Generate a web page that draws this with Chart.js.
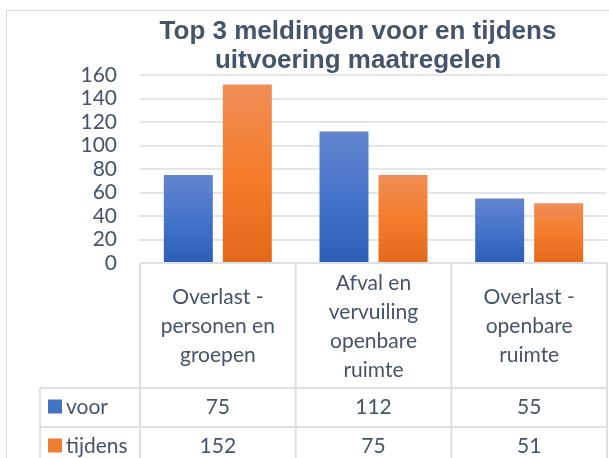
<!DOCTYPE html>
<html>
<head>
<meta charset="utf-8">
<title>Top 3 meldingen</title>
<script src="https://cdn.jsdelivr.net/npm/chart.js@4.4.1/dist/chart.umd.min.js"></script>
<style>
  html, body { margin: 0; padding: 0; background: #fff; overflow: hidden; }
  #wrap { position: absolute; left: 0; top: 0; width: 716px; height: 470px; }
</style>
</head>
<body>
<div id="wrap"><canvas id="meldingenChart"></canvas></div>
<script>
// chart data
const categories = [
  ['Overlast -', 'personen en', 'groepen'],
  ['Afval en', 'vervuiling', 'openbare', 'ruimte'],
  ['Overlast -', 'openbare', 'ruimte']
];
const seriesNames = ['voor', 'tijdens'];
const voorValues = [75, 112, 55];
const tijdensValues = [152, 75, 51];
const yMin = 0;
const yMax = 160;
const yStep = 20;

const textColor = '#44546A';
const lineColor = '#DCDFE4';
const blueStops = ['#6385CE', '#4573CA', '#2D5DB6'];
const orangeStops = ['#F18D57', '#F47C2B', '#E26919'];

// vertical gradient for each bar, from its top down to zero
function barGradient(stops) {
  return (context) => {
    const chart = context.chart;
    const { ctx, chartArea, scales } = chart;
    if (!chartArea || context.type !== 'data' || !scales.y) return stops[1];
    const top = scales.y.getPixelForValue(context.raw);
    const bottom = scales.y.getPixelForValue(0);
    const g = ctx.createLinearGradient(0, top, 0, bottom);
    g.addColorStop(0, stops[0]);
    g.addColorStop(0.5, stops[1]);
    g.addColorStop(1, stops[2]);
    return g;
  };
}

// outer frame of the chart (right and bottom sides are cut off)
const chartFrame = {
  id: 'chartFrame',
  beforeDraw(chart) {
    const ctx = chart.ctx;
    ctx.save();
    ctx.strokeStyle = '#D9D9D9';
    ctx.lineWidth = 1;
    ctx.strokeRect(6.5, 10.5, 800, 600);
    ctx.restore();
  }
};

// data table under the plot, like Excel does
const dataTable = {
  id: 'dataTable',
  afterDraw(chart) {
    const { ctx, chartArea, scales } = chart;
    const x = scales.x;
    const half = (x.getPixelForValue(1) - x.getPixelForValue(0)) / 2;
    const left = chartArea.left;
    const right = chartArea.right;
    const top = chartArea.bottom;
    const rowTop = top + 125;
    const rowH = 39;
    const labelLeft = 40;
    const bottom = chart.height;

    ctx.save();
    ctx.strokeStyle = lineColor;
    ctx.lineWidth = 2;
    ctx.beginPath();
    // horizontal lines
    ctx.moveTo(left, top); ctx.lineTo(right, top);
    for (let i = 0; i < 3; i++) {
      ctx.moveTo(labelLeft, rowTop + rowH * i);
      ctx.lineTo(right, rowTop + rowH * i);
    }
    // vertical lines
    ctx.moveTo(labelLeft, rowTop); ctx.lineTo(labelLeft, bottom);
    for (let j = 0; j < categories.length; j++) {
      const cx = x.getPixelForValue(j) - half;
      ctx.moveTo(cx, top); ctx.lineTo(cx, bottom);
    }
    ctx.moveTo(right, top); ctx.lineTo(right, bottom);
    ctx.stroke();

    ctx.font = '21px Lato';
    ctx.textBaseline = 'middle';
    chart.data.datasets.forEach((ds, i) => {
      const cy = rowTop + rowH * i + rowH / 2;
      // legend key
      ctx.fillStyle = ds.keyColor;
      ctx.fillRect(48, cy - 8, 14, 14);
      ctx.fillStyle = textColor;
      ctx.textAlign = 'left';
      ctx.fillText(ds.label, 66, cy);
      ctx.textAlign = 'center';
      ds.data.forEach((v, j) => {
        ctx.fillText(String(v), x.getPixelForValue(j), cy);
      });
    });
    ctx.restore();
  }
};

const ctx = document.getElementById('meldingenChart');

new Chart(ctx, {
  type: 'bar',
  data: {
    labels: categories,
    datasets: [
      {
        label: seriesNames[0],
        data: voorValues,
        backgroundColor: barGradient(blueStops),
        keyColor: '#4472C4',
        categoryPercentage: 0.758,
        barPercentage: 0.83
      },
      {
        label: seriesNames[1],
        data: tijdensValues,
        backgroundColor: barGradient(orangeStops),
        keyColor: '#ED7D31',
        categoryPercentage: 0.758,
        barPercentage: 0.83
      }
    ]
  },
  options: {
    responsive: true,
    maintainAspectRatio: false,
    animation: false,
    layout: {
      padding: 0
    },
    plugins: {
      legend: { display: false },
      tooltip: { enabled: false },
      title: {
        display: true,
        text: ['Top 3 meldingen voor en tijdens', 'uitvoering maatregelen'],
        color: textColor,
        font: { family: 'Liberation Sans', size: 26, weight: 'bold', lineHeight: 1.1 },
        padding: { top: 18, bottom: 0 }
      }
    },
    scales: {
      x: {
        grid: { display: false },
        border: { display: false },
        ticks: {
          color: textColor,
          font: { family: 'Lato', size: 21, lineHeight: 1.38 },
          padding: 12,
          crossAlign: 'center',
          maxRotation: 0,
          autoSkip: false
        },
        afterFit(scale) { scale.height = 207; }
      },
      y: {
        min: yMin,
        max: yMax,
        grid: { color: '#E2E5E9', lineWidth: 2, drawTicks: false },
        border: { display: false },
        ticks: {
          stepSize: yStep,
          autoSkip: false,
          color: textColor,
          font: { family: 'Lato', size: 21 },
          padding: 23
        },
        afterFit(scale) { scale.width = 140; }
      },
      // empty axis on the right: the chart continues past the window edge
      yRight: {
        type: 'linear',
        position: 'right',
        grid: { display: false },
        border: { display: false },
        ticks: { display: false },
        afterFit(scale) { scale.width = 109; }
      }
    }
  },
  plugins: [chartFrame, dataTable]
});
</script>
</body>
</html>
